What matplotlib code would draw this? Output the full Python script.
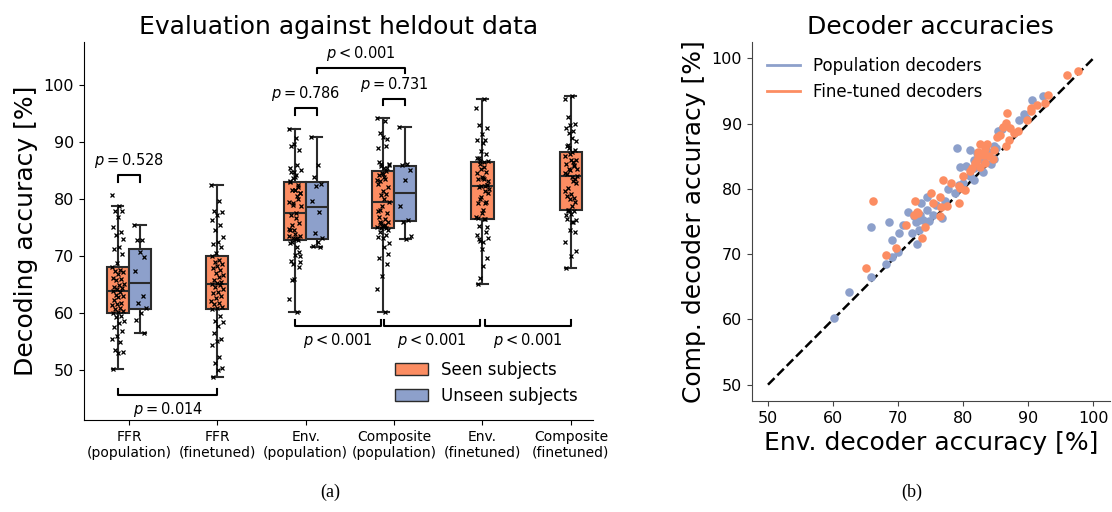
import matplotlib
matplotlib.use("Agg")
import matplotlib.pyplot as plt
from matplotlib.patches import Patch
from matplotlib.lines import Line2D
import numpy as np

# colours (seaborn Set2)
orange = "#fc8d62"
blue = "#8da0cb"
edge = "#2b2b2b"

### Data
# population decoders, seen subjects: (envelope acc, composite acc)
pop_env = [92.3, 90.6, 89.3, 88.6, 89.6, 85.4, 86.0, 79.0, 81.1, 83.9,
           84.7, 82.1, 84.8, 79.5, 80.5, 81.6, 81.1, 81.6, 83.0, 79.9,
           79.3, 78.8, 77.6, 77.2, 75.8, 74.5, 73.5, 71.5, 72.5, 73.4,
           73.8, 74.5, 72.8, 73.2, 74.8, 76.7, 75.4, 70.7, 70.2, 72.2,
           73.2, 68.6, 69.0, 72.9, 69.1, 68.1, 65.9, 62.4, 60.2, 65.8,
           70.0, 81.6, 83.2, 82.4, 83.6, 85.0, 84.2]
pop_comp = [94.2, 93.6, 91.5, 90.5, 90.8, 88.9, 89.2, 86.2, 86.0, 85.5,
            86.5, 85.5, 84.6, 83.3, 83.5, 83.2, 82.0, 81.4, 82.6, 80.9,
            80.6, 79.4, 80.0, 78.1, 77.6, 78.8, 77.8, 76.4, 75.8, 76.0,
            75.3, 76.8, 74.9, 75.3, 75.0, 75.5, 76.0, 74.5, 73.2, 73.3,
            73.7, 74.9, 72.2, 71.5, 69.6, 68.5, 66.5, 64.2, 60.2, 74.2,
            70.4, 84.4, 84.2, 84.9, 85.8, 86.2, 83.8]

# fine-tuned decoders, seen subjects
ft_env = [95.9, 97.6, 93.0, 92.5, 91.3, 90.4, 90.4, 86.7, 86.6, 89.8,
          87.2, 87.8, 85.2, 87.1, 86.5, 86.1, 82.5, 83.7, 83.4, 82.2,
          82.2, 83.1, 83.4, 82.1, 82.5, 83.9, 84.5, 81.3, 80.0, 81.1,
          78.1, 79.3, 79.5, 80.3, 76.9, 76.5, 75.3, 75.0, 77.5, 76.6,
          79.3, 72.6, 73.1, 72.4, 72.9, 74.1, 71.2, 73.6, 76.5, 66.2,
          69.7, 68.2, 65.0, 84.8, 88.4, 81.8, 85.6]
ft_comp = [97.5, 98.0, 94.4, 93.1, 92.9, 92.4, 91.9, 91.6, 90.1, 90.6,
           89.3, 88.6, 87.9, 87.5, 86.5, 89.5, 86.9, 86.8, 86.1, 85.7,
           85.2, 85.2, 83.9, 84.4, 83.4, 85.0, 84.5, 83.2, 81.9, 82.8,
           80.9, 80.5, 80.2, 79.9, 81.4, 78.7, 77.9, 79.4, 77.3, 77.2,
           77.9, 78.1, 76.3, 76.0, 76.5, 74.1, 74.5, 72.5, 75.9, 78.1,
           70.9, 69.9, 67.9, 86.0, 88.9, 84.0, 88.2]

# FFR decoders, seen subjects
ffr_pop_seen = [80.7, 78.8, 77.9, 77.8, 76.9, 75.0, 74.1, 73.6, 72.9, 71.5,
                71.2, 70.4, 68.7, 68.1, 67.6, 67.3, 67.1, 66.8, 66.2, 66.0,
                65.7, 65.1, 64.9, 64.6, 64.3, 64.1, 63.9, 63.6, 63.2, 62.9,
                62.7, 62.2, 61.8, 61.5, 61.3, 60.9, 60.6, 60.4, 60.2, 59.9,
                59.5, 59.2, 58.6, 58.3, 57.6, 56.8, 56.0, 55.4, 54.8, 53.5,
                53.2, 52.9, 50.1]
ffr_ft_seen = [82.4, 79.6, 77.8, 77.7, 77.2, 76.3, 75.5, 74.6, 73.3, 72.5,
               72.0, 71.5, 70.5, 69.9, 69.3, 68.9, 68.6, 68.2, 67.9, 67.5,
               67.0, 66.6, 66.3, 65.8, 65.5, 65.2, 65.0, 64.8, 64.5, 64.1,
               63.7, 63.4, 62.9, 62.6, 62.1, 61.8, 61.5, 61.1, 60.8, 60.6,
               59.4, 58.5, 58.4, 57.7, 56.4, 55.4, 55.1, 54.4, 52.3, 51.2,
               50.3, 49.9, 48.8]

# population decoders, unseen subjects
ffr_pop_unseen = [75.5, 72.7, 72.8, 69.8, 70.7, 67.4, 63.0, 61.8, 60.8, 60.0,
                  58.8, 56.4]
env_pop_unseen = [90.9, 86.0, 83.8, 82.6, 82.2, 79.6, 77.7, 74.0, 73.1, 72.4,
                  71.7, 71.6]
comp_pop_unseen = [92.6, 86.1, 85.9, 85.1, 83.3, 78.8, 76.3, 76.0, 73.4, 72.9]

categories = ["FFR\n(population)", "FFR\n(finetuned)", "Env.\n(population)",
              "Composite\n(population)", "Env.\n(finetuned)", "Composite\n(finetuned)"]
seen = [ffr_pop_seen, ffr_ft_seen, pop_env, pop_comp, ft_env, ft_comp]
unseen = [ffr_pop_unseen, None, env_pop_unseen, comp_pop_unseen, None, None]


fig = plt.figure(figsize=(11.12, 5.12), dpi=100)
ax1 = fig.add_axes([0.0755, 0.1797, 0.4577, 0.738])
ax2 = fig.add_axes([0.676, 0.2168, 0.3219, 0.7012])

# deterministic jitter pattern for the strip points
def jitter(n, amp=0.07):
    return amp * (((np.arange(n) * 0.618034) % 1.0) * 2 - 1)

def draw_box(ax, data, pos, color):
    ax.boxplot(data, positions=[pos], widths=0.25, patch_artist=True,
               showfliers=False, whis=1.5,
               boxprops=dict(facecolor=color, edgecolor=edge, linewidth=1.5),
               medianprops=dict(color=edge, linewidth=1.5),
               whiskerprops=dict(color=edge, linewidth=1.5),
               capprops=dict(color=edge, linewidth=1.5), zorder=2)
    ax.plot(pos + jitter(len(data)), data, "x", color="black", ms=2.8, mew=0.9,
            zorder=3)

w = 0.125
for i in range(len(categories)):
    if unseen[i] is None:
        draw_box(ax1, seen[i], i, orange)
    else:
        draw_box(ax1, seen[i], i - w, orange)
        draw_box(ax1, unseen[i], i + w, blue)

def bracket(ax, x1, x2, y, h, text, below=False):
    if below:
        ax.plot([x1, x1, x2, x2], [y + h, y, y, y + h], color="black", lw=1.5)
        ax.text((x1 + x2) / 2, y - 0.9, text, ha="center", va="top", fontsize=10.5)
    else:
        ax.plot([x1, x1, x2, x2], [y - h, y, y, y - h], color="black", lw=1.5)
        ax.text((x1 + x2) / 2, y + 0.9, text, ha="center", va="bottom", fontsize=10.5)

bracket(ax1, -w, w, 84.1, 1.1, r"$p = 0.528$")
bracket(ax1, 2 - w, 2 + w, 96.0, 1.2, r"$p = 0.786$")
bracket(ax1, 3 - w, 3 + w, 97.5, 1.0, r"$p = 0.731$")
bracket(ax1, 2 + w, 3 + w, 103.0, 1.0, r"$p < 0.001$")
bracket(ax1, 2 - w, 2.85, 57.7, 1.1, r"$p < 0.001$", below=True)
bracket(ax1, 2.89, 3.975, 57.7, 1.1, r"$p < 0.001$", below=True)
bracket(ax1, 4.025, 5.0, 57.7, 1.1, r"$p < 0.001$", below=True)
bracket(ax1, -w, 1.0, 45.6, 1.0, r"$p = 0.014$", below=True)

ax1.set_xlim(-0.51, 5.25)
ax1.set_ylim(41.2, 107.5)
ax1.set_xticks(range(len(categories)))
ax1.set_xticklabels(categories, fontsize=10)
ax1.set_yticks([50, 60, 70, 80, 90, 100])
ax1.tick_params(axis="y", labelsize=11.5)
ax1.set_ylabel("Decoding accuracy [%]", fontsize=18)
ax1.set_title("Evaluation against heldout data", fontsize=18)
ax1.spines["top"].set_visible(False)
ax1.spines["right"].set_visible(False)
ax1.legend(handles=[Patch(facecolor=orange, edgecolor=edge, label="Seen subjects"),
                    Patch(facecolor=blue, edgecolor=edge, label="Unseen subjects")],
           loc="lower right", frameon=False, fontsize=12)

#Scatter panel
ax2.plot([50, 100], [50, 100], "--", color="black", lw=1.8, zorder=1)
ax2.scatter(pop_env, pop_comp, s=38, color=blue, linewidths=0, zorder=2)
ax2.scatter(ft_env, ft_comp, s=38, color=orange, linewidths=0, zorder=3)
ax2.set_xlim(47.5, 102.5)
ax2.set_ylim(47.5, 102.5)
ax2.set_xticks([50, 60, 70, 80, 90, 100])
ax2.set_yticks([50, 60, 70, 80, 90, 100])
ax2.tick_params(labelsize=11.5, color="#444444")
ax2.set_xlabel("Env. decoder accuracy [%]", fontsize=18)
ax2.set_ylabel("Comp. decoder accuracy [%]", fontsize=18)
ax2.set_title("Decoder accuracies", fontsize=18)
ax2.spines["top"].set_visible(False)
ax2.spines["right"].set_visible(False)
ax2.spines["left"].set_color("#444444")
ax2.spines["bottom"].set_color("#444444")
ax2.legend(handles=[Line2D([0], [0], color=blue, lw=2, label="Population decoders"),
                    Line2D([0], [0], color=orange, lw=2, label="Fine-tuned decoders")],
           loc="upper left", frameon=False, fontsize=12)

fig.text(330 / 1112, 1 - 492 / 512, "(a)", family="Liberation Serif", fontsize=13,
         ha="center", va="center")
fig.text(912 / 1112, 1 - 492 / 512, "(b)", family="Liberation Serif", fontsize=13,
         ha="center", va="center")

fig.savefig("out.png", dpi=100)
